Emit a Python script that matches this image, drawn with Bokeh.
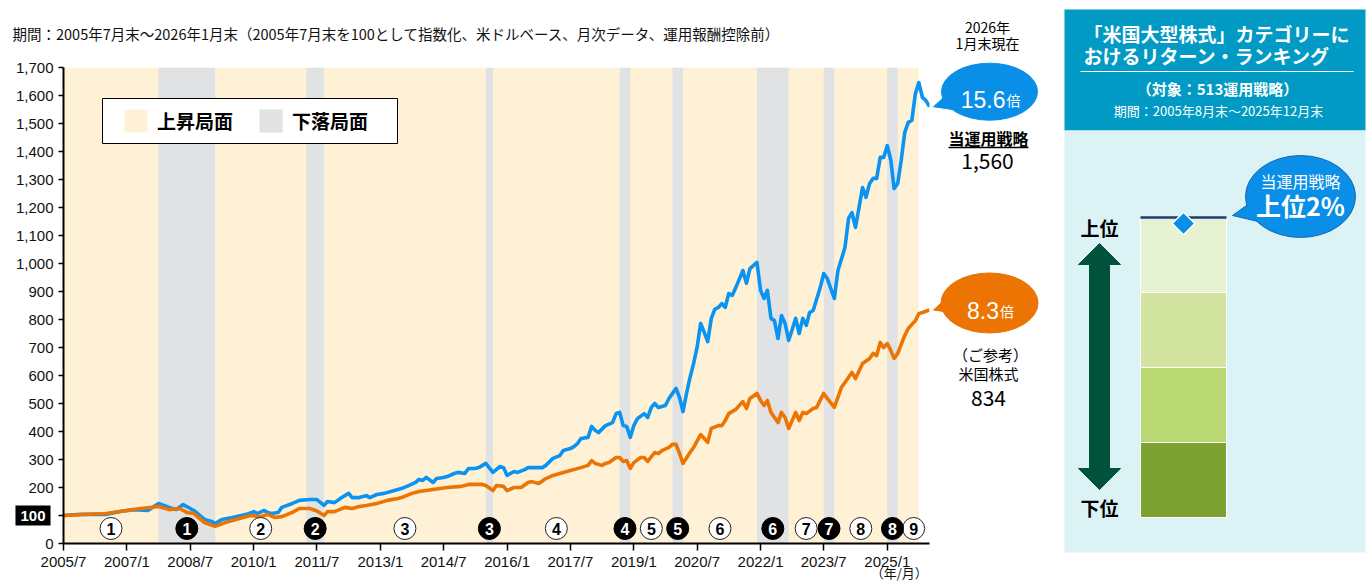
import pandas as pd
from bokeh.plotting import figure
from bokeh.layouts import row
from bokeh.models import (Range1d, FixedTicker, NumeralTickFormatter, Legend, LegendItem,
                          BoxAnnotation)
from bokeh.core.properties import value
from bokeh.embed import file_html
from bokeh.resources import INLINE

JP = "Noto Sans CJK JP"
NUM = "Liberation Sans"

# ---------------------------------------------------------------- data
# 当運用戦略 (2005/7 = 100, USD, monthly)
strategy_months = [
    "2005-07", "2005-12", "2006-07", "2006-11", "2007-03", "2007-07", "2007-10", "2008-01",
    "2008-03", "2008-05", "2008-07", "2008-08", "2008-11", "2009-01", "2009-02", "2009-04",
    "2009-07", "2009-11", "2010-01", "2010-02", "2010-04", "2010-05", "2010-06", "2010-08",
    "2010-09", "2010-12", "2011-02", "2011-05", "2011-07", "2011-09", "2011-10", "2011-12",
    "2012-02", "2012-04", "2012-05", "2012-07", "2012-09", "2012-10", "2012-12", "2013-02",
    "2013-04", "2013-06", "2013-07", "2013-09", "2013-11", "2013-12", "2014-01", "2014-02",
    "2014-04", "2014-05", "2014-07", "2014-08", "2014-10", "2014-11", "2015-01", "2015-02",
    "2015-04", "2015-05", "2015-07", "2015-09", "2015-11", "2015-12", "2016-01", "2016-03",
    "2016-04", "2016-06", "2016-07", "2016-09", "2016-11", "2016-12", "2017-02", "2017-04",
    "2017-05", "2017-07", "2017-08", "2017-09", "2017-10", "2017-12", "2018-01", "2018-02",
    "2018-03", "2018-05", "2018-07", "2018-08", "2018-09", "2018-10", "2018-11", "2018-12",
    "2019-01", "2019-02", "2019-04", "2019-05", "2019-06", "2019-07", "2019-08", "2019-10",
    "2019-11", "2019-12", "2020-01", "2020-02", "2020-03", "2020-04", "2020-05", "2020-06",
    "2020-07", "2020-08", "2020-09", "2020-10", "2020-11", "2020-12", "2021-01", "2021-02",
    "2021-03", "2021-04", "2021-05", "2021-06", "2021-08", "2021-09", "2021-10", "2021-12",
    "2022-01", "2022-02", "2022-03", "2022-04", "2022-05", "2022-06", "2022-07", "2022-08",
    "2022-09", "2022-11", "2022-12", "2023-01", "2023-02", "2023-03", "2023-04", "2023-06",
    "2023-07", "2023-08", "2023-10", "2023-11", "2024-01", "2024-02", "2024-03", "2024-04",
    "2024-06", "2024-07", "2024-08", "2024-09", "2024-10", "2024-11", "2024-12", "2025-01",
    "2025-02", "2025-03", "2025-04", "2025-05", "2025-06", "2025-07", "2025-08", "2025-09",
    "2025-10", "2025-11", "2025-12", "2026-01",
]
strategy_index = [
    100, 104, 104, 114, 121, 118, 143, 129,
    121, 139, 125, 118, 86, 79, 71, 86,
    93, 104, 114, 107, 118, 111, 107, 111,
    129, 143, 154, 157, 157, 136, 150, 146,
    164, 179, 164, 164, 171, 164, 175, 179,
    186, 193, 196, 207, 218, 229, 225, 236,
    218, 232, 236, 239, 250, 254, 250, 268,
    268, 271, 286, 254, 275, 271, 243, 257,
    254, 264, 271, 271, 271, 279, 304, 314,
    332, 339, 346, 357, 375, 379, 418, 404,
    396, 421, 432, 464, 468, 421, 418, 379,
    421, 446, 464, 450, 486, 500, 486, 493,
    518, 536, 554, 521, 471, 536, 593, 643,
    700, 786, 754, 721, 804, 836, 843, 857,
    843, 893, 886, 914, 975, 929, 982, 1004,
    904, 875, 904, 804, 796, 732, 814, 786,
    725, 804, 750, 804, 779, 825, 832, 914,
    964, 946, 875, 975, 1057, 1161, 1182, 1129,
    1271, 1236, 1286, 1304, 1304, 1379, 1379, 1421,
    1368, 1268, 1286, 1368, 1468, 1504, 1511, 1607,
    1646, 1593, 1582, 1560,
]

# 米国株式 (reference index, same basis)
us_months = [
    "2005-07", "2006-07", "2006-11", "2007-05", "2007-10", "2008-01", "2008-04", "2008-06",
    "2008-08", "2008-11", "2009-02", "2009-05", "2009-08", "2009-12", "2010-03", "2010-05",
    "2010-07", "2010-09", "2010-12", "2011-02", "2011-05", "2011-07", "2011-09", "2011-10",
    "2011-12", "2012-03", "2012-05", "2012-07", "2012-09", "2012-12", "2013-03", "2013-06",
    "2013-07", "2013-10", "2013-12", "2014-04", "2014-08", "2014-12", "2015-02", "2015-06",
    "2015-07", "2015-09", "2015-10", "2015-12", "2016-01", "2016-03", "2016-05", "2016-07",
    "2016-08", "2016-10", "2016-12", "2017-02", "2017-04", "2017-07", "2017-10", "2017-12",
    "2018-01", "2018-02", "2018-04", "2018-05", "2018-06", "2018-08", "2018-09", "2018-10",
    "2018-11", "2018-12", "2019-01", "2019-03", "2019-04", "2019-05", "2019-07", "2019-08",
    "2019-09", "2019-11", "2019-12", "2020-01", "2020-02", "2020-03", "2020-05", "2020-06",
    "2020-08", "2020-09", "2020-10", "2020-11", "2021-01", "2021-02", "2021-03", "2021-04",
    "2021-06", "2021-08", "2021-09", "2021-10", "2021-12", "2022-01", "2022-02", "2022-03",
    "2022-04", "2022-06", "2022-07", "2022-08", "2022-09", "2022-11", "2022-12", "2023-01",
    "2023-02", "2023-04", "2023-05", "2023-07", "2023-08", "2023-10", "2023-12", "2024-01",
    "2024-03", "2024-04", "2024-06", "2024-08", "2024-09", "2024-10", "2024-11", "2024-12",
    "2025-01", "2025-02", "2025-03", "2025-04", "2025-06", "2025-07", "2025-09", "2025-10",
    "2025-11", "2026-01",
]
us_index = [
    100, 107, 114, 125, 132, 121, 125, 111,
    107, 75, 61, 75, 86, 100, 96, 104,
    93, 96, 111, 125, 125, 116, 100, 114,
    114, 129, 125, 132, 136, 143, 154, 161,
    164, 179, 186, 193, 200, 204, 211, 211,
    207, 189, 207, 204, 189, 200, 200, 218,
    221, 214, 232, 243, 250, 261, 271, 279,
    296, 286, 279, 286, 289, 307, 307, 293,
    296, 268, 289, 307, 307, 293, 325, 321,
    332, 343, 354, 354, 321, 286, 325, 343,
    389, 375, 361, 411, 421, 421, 439, 464,
    479, 507, 482, 518, 536, 511, 493, 511,
    468, 432, 468, 450, 411, 468, 439, 468,
    464, 482, 486, 536, 518, 486, 557, 575,
    611, 589, 643, 661, 679, 671, 718, 700,
    714, 689, 661, 679, 743, 768, 796, 821,
    825, 834,
]

# market phases: boundaries, rising (True) / falling (False), phase number
phase_edges = [
    "2005-07", "2007-10", "2009-02", "2011-04", "2011-09", "2015-07", "2015-09", "2018-09",
    "2018-12", "2019-12", "2020-03", "2021-12", "2022-09", "2023-07", "2023-10", "2025-01",
    "2025-04", "2026-01",
]
phase_rising = [True, False] * 8 + [True]
phase_numbers = ["1", "1", "2", "2", "3", "3", "4", "4", "5", "5", "6", "6", "7", "7", "8", "8", "9"]
shading_until = "2025-10"

y_ticks = list(range(0, 1701, 100))
x_tick_months = ["2005-07", "2007-01", "2008-07", "2010-01", "2011-07", "2013-01", "2014-07",
                 "2016-01", "2017-07", "2019-01", "2020-07", "2022-01", "2023-07", "2025-01"]

# return ranking within the category (quartile bands, percent from bottom)
rank_bounds = [0, 25, 50, 75, 100]
rank_colors = ["#7EA232", "#B9D874", "#D2E4A0", "#E6F2D2"]
strategy_top_pct = 2
universe_size = 513

# ---------------------------------------------------------------- style
BLUE = "#0A93F0"
BUBBLE_BLUE = "#0A8FE8"
ORANGE = "#EC7403"
CREAM = "#FFF1D6"
GREY = "#E1E2E4"
TEAL = "#009AC4"
PALE = "#DCF3F5"
NAVY = "#1F3A7A"
GREEN = "#00533A"

H = 581
TOP, BOTTOM, LEFT, RIGHT = 67, 38, 63, 3
W_MAIN, W_MID, W_PANEL = 932, 131, 306
Y_MAX = 1700
ppu = (H - TOP - BOTTOM) / Y_MAX  # pixels per index point


def ts(s):
    return pd.Timestamp(s)


def ms(s):
    return ts(s).value / 1e6


def blank_fig(width, x_range, y_range):
    f = figure(width=width, height=H, x_range=x_range, y_range=y_range,
               x_axis_location=None, y_axis_location=None, title=None,
               output_backend="svg", toolbar_location=None, min_border=0,
               frame_align=False)
    f.outline_line_color = None
    f.grid.visible = False
    f.background_fill_color = "white"
    f.border_fill_color = "white"
    return f


def jtext(fig, x, y, txt, size, color="black", bold=False, align="center",
          baseline="middle", font=JP, **kw):
    return fig.text(x=[x], y=[y], text=[txt], text_font=value(font), text_font_size=size,
                    text_color=color, text_font_style="bold" if bold else "normal",
                    text_align=align, text_baseline=baseline, **kw)


# ---------------------------------------------------------------- main chart
x_start, x_end = ts(phase_edges[0]), ts(strategy_months[-1])
p = figure(width=W_MAIN, height=H, x_axis_type="datetime",
           x_range=Range1d(x_start, x_end), y_range=Range1d(0, Y_MAX),
           output_backend="svg", toolbar_location=None, title=None,
           min_border_left=LEFT, min_border_right=RIGHT,
           min_border_top=TOP, min_border_bottom=BOTTOM, frame_align=False)
p.outline_line_color = None
p.xgrid.visible = False
p.ygrid.visible = False
p.background_fill_color = "white"
p.border_fill_color = "white"

lefts = [ts(a) for a in phase_edges[:-1]]
ends = [ts(b) for b in phase_edges[1:]]
shade_end = ts(shading_until)

rise_r = p.quad(left=[x_start], right=[shade_end], bottom=[0], top=[Y_MAX],
                fill_color=CREAM, line_color=None)
fall_idx = [i for i, r in enumerate(phase_rising) if not r]
fall_r = p.quad(left=[lefts[i] for i in fall_idx], right=[min(ends[i], shade_end) for i in fall_idx],
                bottom=0, top=Y_MAX, fill_color=GREY, line_color=None)

p.line([ts(m) for m in strategy_months], strategy_index, line_width=3.6, color=BLUE,
       line_join="round")
p.line([ts(m) for m in us_months], us_index, line_width=3.6, color=ORANGE, line_join="round")

# phase numbers in circles
mids = [a + (b - a) / 2 for a, b in zip(lefts, ends)]
circle_y = 15 / ppu
rise_idx = [i for i, r in enumerate(phase_rising) if r]
p.scatter([mids[i] for i in rise_idx], circle_y, size=22, marker="circle",
          fill_color="white", line_color="#222222", line_width=1)
p.scatter([mids[i] for i in fall_idx], circle_y, size=22, marker="circle",
          fill_color="black", line_color="black", line_width=1)
p.text(x=mids, y=circle_y, text=phase_numbers,
       text_color=["black" if r else "white" for r in phase_rising],
       text_align="center", text_baseline="middle", text_font=value(NUM),
       text_font_style="bold", text_font_size="16px")

# axes
p.yaxis.ticker = FixedTicker(ticks=y_ticks)
p.yaxis.formatter = NumeralTickFormatter(format="0,0")
p.yaxis.major_label_overrides = {100: ""}
p.xaxis.ticker = FixedTicker(ticks=[ms(m) for m in x_tick_months])
p.xaxis.major_label_overrides = {ms(m): f"{ts(m).year}/{ts(m).month}" for m in x_tick_months}
for ax in (p.xaxis[0], p.yaxis[0]):
    ax.axis_line_color = "black"
    ax.axis_line_width = 2
    ax.major_tick_line_color = "black"
    ax.major_tick_line_width = 1.5
    ax.major_tick_in = 0
    ax.minor_tick_line_color = None
    ax.major_label_text_font = NUM
    ax.major_label_text_font_size = "15px"
    ax.major_label_text_color = "#111111"
p.yaxis.major_tick_out = 5
p.yaxis.major_label_standoff = 5
p.xaxis.major_tick_out = 7
p.xaxis.major_label_standoff = 2

# legend box with its two swatches
p.add_layout(BoxAnnotation(left=39, right=334, bottom=400, top=445,
                           left_units="screen", right_units="screen",
                           bottom_units="screen", top_units="screen",
                           fill_color="white", fill_alpha=1,
                           line_color="black", line_width=1, line_alpha=1))
legend = Legend(items=[LegendItem(label="上昇局面", renderers=[rise_r]),
                       LegendItem(label="下落局面", renderers=[fall_r])],
                orientation="horizontal", location=(58, 408),
                border_line_color=None, background_fill_alpha=0,
                padding=0, spacing=23, margin=0, label_standoff=7,
                glyph_width=29, glyph_height=29, label_height=29,
                label_text_font=JP, label_text_font_size="19px",
                label_text_font_style="bold", label_text_color="black")
p.add_layout(legend)

# texts sitting in the margins around the frame (drawn unclipped)
jtext(p, x_start, Y_MAX,
      "期間：2005年7月末～2026年1月末（2005年7月末を100として指数化、米ドルベース、月次データ、運用報酬控除前）",
      "14.5px", color="#111111", align="left", x_offset=-51, y_offset=-34, level="overlay")
jtext(p, x_start, 100, "100", "15px", color="white", bold=True, align="right", font=NUM,
      x_offset=-13, background_fill_color="black", padding=5, level="overlay")
jtext(p, ts(x_tick_months[-1]), 0, "（年/月）", "13px", color="#111111",
      x_offset=12, y_offset=29, level="overlay")

# ---------------------------------------------------------------- end values column
y_lo = -BOTTOM / ppu
y_hi = Y_MAX + TOP / ppu
mid = blank_fig(W_MID, Range1d(0, W_MID), Range1d(y_lo, y_hi))


def vy(px):
    """index value that sits at a given pixel row of the canvas"""
    return y_hi - px / ppu


jtext(mid, 55, vy(26), "2026年", "14px")
jtext(mid, 55, vy(42), "1月末現在", "14px")

bubbles = [(strategy_index[-1], BUBBLE_BLUE, 15, 96, 57),
           (us_index[-1], ORANGE, 7, 97, 60)]
for end_val, col, lift_px, bw, bh in bubbles:
    cy = end_val + lift_px / ppu
    mid.patch([1, 12, 28], [end_val, end_val + 10 / ppu, end_val - 4 / ppu],
              fill_color=col, line_color=col)
    mid.ellipse(x=[57], y=[cy], width=bw, height=bh, width_units="screen",
                height_units="screen", fill_color=col, line_color=col)
    mult = f"{end_val / 100:.1f}"
    num_w = sum(0.27 * 23 if c == "." else 0.56 * 23 for c in mult)
    left = 58 - (num_w + 15) / 2
    jtext(mid, left + num_w, cy - 8 / ppu, mult, "23px", color="white",
          align="right", baseline="alphabetic", font=NUM)
    jtext(mid, left + num_w + 1, cy - 8 / ppu, "倍", "14px", color="white",
          align="left", baseline="alphabetic")

jtext(mid, 56, vy(137), "当運用戦略", "16px", bold=True)
mid.segment(x0=[16], x1=[96], y0=[vy(147)], y1=[vy(147)], line_color="black", line_width=1.3)
jtext(mid, 55, vy(160), f"{strategy_index[-1]:,}", "21px")
jtext(mid, 58, vy(354), "（ご参考）", "15px")
jtext(mid, 56, vy(373), "米国株式", "15px")
jtext(mid, 56, vy(397), f"{us_index[-1]:,}", "21px")

# ---------------------------------------------------------------- ranking panel
rp = blank_fig(W_PANEL, Range1d(0, W_PANEL), Range1d(H, 0))

BAR_TOP, BAR_BOTTOM = 217, 517
k = (BAR_BOTTOM - BAR_TOP) / 100
rp.extra_y_ranges = {"rank": Range1d(-(H - BAR_BOTTOM) / k, BAR_BOTTOM / k)}

rp.quad(left=[1], right=[302], top=[9], bottom=[130], fill_color=TEAL, line_color=None)
rp.quad(left=[1], right=[302], top=[130], bottom=[552], fill_color=PALE, line_color=None)
rp.segment(x0=[17], x1=[290], y0=[71], y1=[71], line_color="white", line_width=1)

jtext(rp, 20, 33, "「米国大型株式」カテゴリーに", "19px", color="white", bold=True, align="left")
jtext(rp, 20, 55, "おけるリターン・ランキング", "19px", color="white", bold=True, align="left")
jtext(rp, 154, 88, f"（対象：{universe_size}運用戦略）", "15px", color="white", bold=True)
jtext(rp, 155, 110, "期間：2005年8月末～2025年12月末", "13px", color="white")

rp.quad(left=77, right=163, bottom=rank_bounds[:-1], top=rank_bounds[1:],
        fill_color=rank_colors, line_color="white", line_width=1, y_range_name="rank")
rp.segment(x0=[77], x1=[163], y0=[rank_bounds[-1]], y1=[rank_bounds[-1]],
           line_color=NAVY, line_width=2.5, y_range_name="rank")
rp.scatter(x=[120], y=[rank_bounds[-1] - strategy_top_pct], marker="square", angle=0.785398,
           size=16, fill_color=BUBBLE_BLUE, line_color="white", line_width=1.5,
           y_range_name="rank")

# double-headed arrow (上位 / 下位)
ax_c = 36
rp.patch([ax_c, ax_c + 21, ax_c + 10, ax_c + 10, ax_c + 21, ax_c, ax_c - 21, ax_c - 10,
          ax_c - 10, ax_c - 21],
         [243, 264, 264, 468, 468, 489, 468, 468, 264, 264],
         fill_color=GREEN, line_color=GREEN, line_width=1)
jtext(rp, ax_c, 227, "上位", "19px", bold=True)
jtext(rp, ax_c, 507, "下位", "19px", bold=True)

# call-out bubble
rp.patch([169, 190, 199], [215, 200, 222], fill_color=BUBBLE_BLUE, line_color="#1565B0",
         line_width=1)
rp.ellipse(x=[237], y=[196], width=110, height=82, fill_color=BUBBLE_BLUE,
           line_color="#1565B0", line_width=1)
rp.patch([171, 191, 198], [214, 201, 221], fill_color=BUBBLE_BLUE, line_color=None)
jtext(rp, 237, 180, "当運用戦略", "16px", color="white")
jtext(rp, 237, 204, f"上位{strategy_top_pct}%", "25px", color="white", bold=True)

layout = row(p, mid, rp)
open("out.html", "w").write(file_html(layout, INLINE))
